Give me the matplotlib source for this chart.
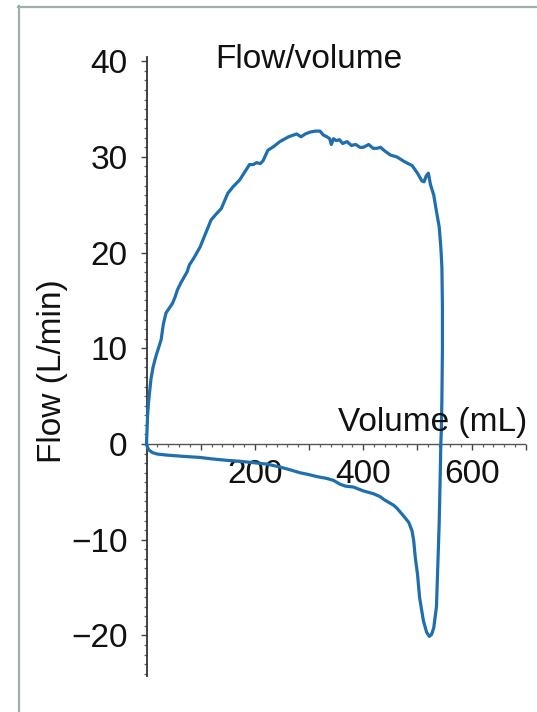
import matplotlib
matplotlib.use("Agg")
import matplotlib.pyplot as plt
from matplotlib.ticker import MultipleLocator, FuncFormatter
from matplotlib.lines import Line2D

# ---- data ----
# expiratory limb (positive flow), volume in mL, flow in L/min
exp_volume = [0, 1, 2, 3.7, 6, 8, 12, 17, 22, 27, 31, 36, 42, 48, 53, 57, 63, 70, 75, 79,
              87, 94, 99, 104, 112, 119, 128, 138, 144, 150, 160, 172, 181, 190, 197, 203,
              210, 215, 220, 224, 235, 246, 262, 277, 285, 293, 302, 312, 320, 326, 333,
              338, 341, 345, 350, 356, 362, 370, 378, 386, 394, 400, 410, 418, 425, 432,
              440, 450, 462, 476, 490, 500, 508, 512, 516, 520, 524, 530, 535, 540, 543,
              545, 546, 546, 545, 544]
exp_flow = [0, 1.5, 3.0, 4.3, 5.6, 6.7, 8.0, 9.1, 10.0, 10.9, 12.5, 13.7, 14.2, 14.7, 15.4,
            16.1, 16.8, 17.5, 18.0, 18.7, 19.4, 20.1, 20.6, 21.3, 22.4, 23.4, 24.0, 24.6,
            25.4, 26.2, 26.9, 27.6, 28.4, 29.2, 29.2, 29.4, 29.3, 29.6, 30.2, 30.7, 31.1,
            31.6, 32.1, 32.4, 32.1, 32.4, 32.6, 32.7, 32.7, 32.3, 32.1, 31.9, 31.3, 31.9,
            31.7, 31.8, 31.4, 31.6, 31.2, 31.3, 31.0, 31.0, 31.3, 30.9, 30.9, 31.0, 30.6,
            30.2, 30.0, 29.5, 29.1, 28.3, 27.5, 27.4, 28.0, 28.3, 27.1, 26.0, 24.3, 22.7,
            20.6, 18.5, 14.3, 10.0, 4.6, 1.5]
# inspiratory limb (negative flow), from end-expiration back to zero volume
insp_volume = [543, 542, 540, 537, 535, 530, 526, 522, 517, 511, 504, 500, 496, 493, 490,
               484, 477, 462, 456, 438, 431, 419, 400, 382, 367, 357, 345, 333, 314, 300,
               283, 265, 246, 222, 197, 172, 147, 120, 98, 70, 36, 20, 11, 4, 1, 0]
insp_flow = [0.0, -3.1, -8.3, -13.5, -17.0, -19.2, -19.9, -20.1, -19.7, -18.5, -16.1, -13.6,
             -11.9, -10.1, -9.1, -8.2, -7.7, -6.7, -6.4, -5.8, -5.5, -5.2, -4.9, -4.5, -4.4,
             -4.2, -3.8, -3.6, -3.4, -3.2, -3.0, -2.7, -2.4, -2.1, -1.95, -1.8, -1.7, -1.55,
             -1.4, -1.3, -1.15, -1.05, -0.9, -0.6, -0.2, 0.0]

x_tick_labels = [200, 400, 600]
y_tick_labels = [-20, -10, 0, 10, 20, 30, 40]

title_text = "Flow/volume"
xlabel_text = "Volume (mL)"
ylabel_text = "Flow (L/min)"

# ---- figure ----
plt.rcParams['font.family'] = ['Liberation Sans', 'DejaVu Sans']
W, H = 537, 712
fig = plt.figure(figsize=(W / 100, H / 100), dpi=100)
fig.patch.set_facecolor('white')

ax = fig.add_axes([146.5 / W, 1 - 675.6 / H, 379.4 / W, (675.6 - 57.4) / H])
ax.set_xlim(0, 700)
ax.set_ylim(-24.2, 40.4)

vol = exp_volume + insp_volume
flow = exp_flow + insp_flow
ax.plot(vol, flow, color='#1f6fae', lw=2.3, solid_joinstyle='round', solid_capstyle='round',
        zorder=3, clip_on=False)

for s in ['top', 'right']:
    ax.spines[s].set_visible(False)
ax.spines['bottom'].set_position(('data', 0))
ax.spines['left'].set_color('#333333')
ax.spines['bottom'].set_color('#555555')
ax.spines['left'].set_linewidth(1.3)
ax.spines['bottom'].set_linewidth(1.0)
ax.spines['bottom'].set_linestyle((0, (2, 1)))

ax.xaxis.set_major_locator(MultipleLocator(100))
ax.xaxis.set_minor_locator(MultipleLocator(20))
ax.xaxis.set_major_formatter(FuncFormatter(
    lambda v, p: f"{int(round(v))}" if int(round(v)) in x_tick_labels else ""))
ax.yaxis.set_major_locator(MultipleLocator(10))
ax.yaxis.set_minor_locator(MultipleLocator(1))
ax.yaxis.set_major_formatter(FuncFormatter(
    lambda v, p: (f"{int(round(v))}".replace('-', '\u2212')) if int(round(v)) in y_tick_labels else ""))

ax.tick_params(axis='x', which='major', direction='out', length=4.5, width=1.0,
               color='#444444', labelsize=24, pad=6, labelcolor='#111111')
ax.tick_params(axis='x', which='minor', direction='out', length=2.5, width=0.9, color='#666666')
ax.tick_params(axis='y', which='major', direction='out', length=4.5, width=1.0,
               color='#444444', labelsize=24, pad=9, labelcolor='#111111')
ax.tick_params(axis='y', which='minor', direction='out', length=2.5, width=0.9, color='#666666')

ax.text(126, 39.3, title_text, fontsize=24, ha='left', va='baseline', color='#111111')
ax.text(702, 1.4, xlabel_text, fontsize=24, ha='right', va='baseline', color='#111111')
fig.text(52 / W, 1 - 371 / H, ylabel_text, fontsize=24, rotation=90,
         ha='center', va='center', color='#111111')

# border of the panel
fig.add_artist(Line2D([18.5 / W, 18.5 / W], [1 - 6 / H, 0], transform=fig.transFigure,
                      color='#9fb0a6', lw=1.6))
fig.add_artist(Line2D([18 / W, 1], [1 - 6.5 / H, 1 - 6.5 / H], transform=fig.transFigure,
                      color='#9fb0a6', lw=1.6))

fig.savefig('out.png', dpi=100, facecolor='white')
